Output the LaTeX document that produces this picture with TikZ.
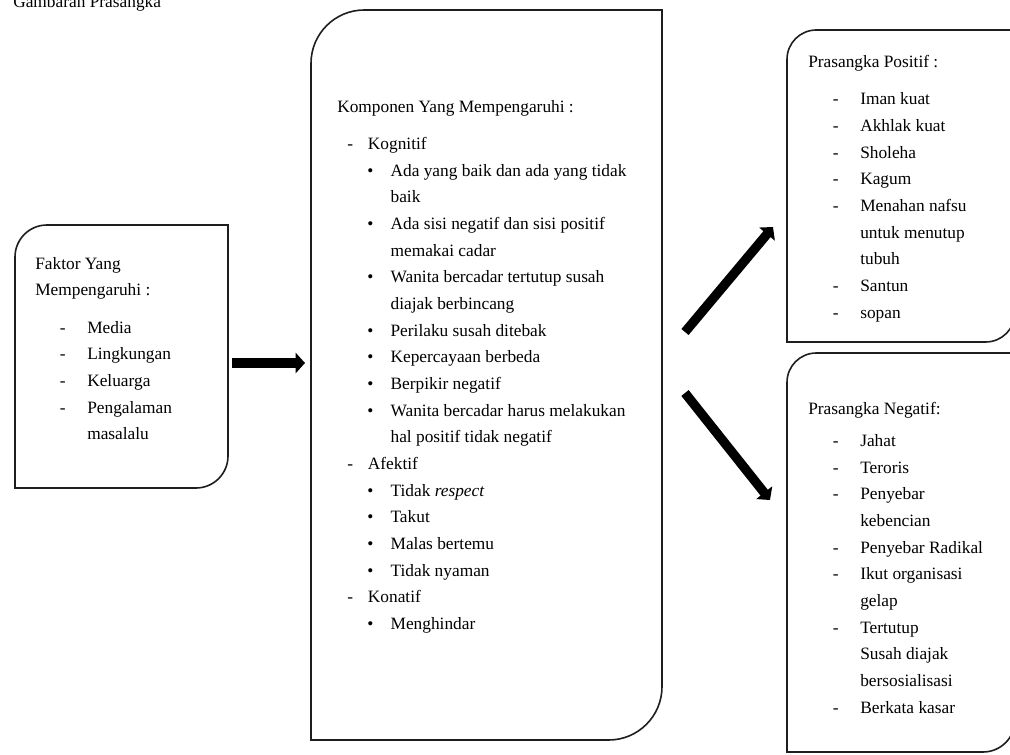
\documentclass[tikz,border=0pt]{standalone}
\usepackage{fontspec}
\setmainfont{Liberation Serif}
\usetikzlibrary{arrows.meta,fit,calc}

\begin{document}
\begin{tikzpicture}[x=0.75pt,y=0.75pt,yscale=-1,xscale=1,
        frame/.style={inner sep=0pt,outer sep=0pt},
        outline/.style={draw={rgb, 255:red, 30; green, 30; blue, 30},line width=1.2pt},
        txt/.style={anchor=north west,inner sep=0pt,align=left,font=\fontsize{13}{20}\selectfont},
        bigarrow/.style={line width=7pt,-{Triangle[width=15pt,length=7pt]}}]
        \useasboundingbox (0,0) rectangle (1010,755);

        \node[frame,fit={(15,225) (228,488)}] (faktor) {};
        \node[frame,fit={(311,10) (662,740)}] (komponen) {};
        \node[frame,fit={(787,30) (1015,342)}] (positif) {};
        \node[frame,fit={(787,353) (1015,752)}] (negatif) {};

        \draw[outline] (faktor.north) -- (faktor.north east) [rounded corners=24pt] -- (faktor.south east) [sharp corners] -- (faktor.south west) [rounded corners=24pt] -- (faktor.north west) [sharp corners] -- cycle;
        \draw[outline] (komponen.north) -- (komponen.north east) [rounded corners=40pt] -- (komponen.south east) [sharp corners] -- (komponen.south west) [rounded corners=40pt] -- (komponen.north west) [sharp corners] -- cycle;
        \draw[outline] (positif.north) -- (positif.north east) [rounded corners=22pt] -- (positif.south east) [sharp corners] -- (positif.south west) [rounded corners=22pt] -- (positif.north west) [sharp corners] -- cycle;
        \draw[outline] (negatif.north) -- (negatif.north east) [rounded corners=24pt] -- (negatif.south east) [sharp corners] -- (negatif.south west) [rounded corners=22pt] -- (negatif.north west) [sharp corners] -- cycle;

        \draw[bigarrow] ($(faktor.east)+(4,6.5)$) -- ($(komponen.west)+(-6,-12)$);
        \draw[bigarrow] ($(komponen.east)+(23,-43)$) -- ($(positif.west)+(-14,41)$);
        \draw[bigarrow] ($(komponen.east)+(23,18)$) -- ($(negatif.west)+(-17,-52.5)$);

        \node[txt,anchor=base west] (judul) at (13,8) {Gambaran Prasangka};
        \node[txt] (faktorteks) at (35,257) {Faktor Yang\\Mempengaruhi :\\[8pt]
            \hspace*{18.5pt}\makebox[20.5pt][l]{-}Media\\
            \hspace*{18.5pt}\makebox[20.5pt][l]{-}Lingkungan\\
            \hspace*{18.5pt}\makebox[20.5pt][l]{-}Keluarga\\
            \hspace*{18.5pt}\makebox[20.5pt][l]{-}Pengalaman\\
            \hspace*{39pt}masalalu};
        \node[txt] (komponenteks) at (337,100) {Komponen Yang Mempengaruhi :\\[8pt]
            \hspace*{7.5pt}\makebox[15.5pt][l]{-}Kognitif\\
            \hspace*{22.5pt}\makebox[17.5pt][l]{\textbullet}Ada yang baik dan ada yang tidak\\
            \hspace*{40pt}baik\\
            \hspace*{22.5pt}\makebox[17.5pt][l]{\textbullet}Ada sisi negatif dan sisi positif\\
            \hspace*{40pt}memakai cadar\\
            \hspace*{22.5pt}\makebox[17.5pt][l]{\textbullet}Wanita bercadar tertutup susah\\
            \hspace*{40pt}diajak berbincang\\
            \hspace*{22.5pt}\makebox[17.5pt][l]{\textbullet}Perilaku susah ditebak\\
            \hspace*{22.5pt}\makebox[17.5pt][l]{\textbullet}Kepercayaan berbeda\\
            \hspace*{22.5pt}\makebox[17.5pt][l]{\textbullet}Berpikir negatif\\
            \hspace*{22.5pt}\makebox[17.5pt][l]{\textbullet}Wanita bercadar harus melakukan\\
            \hspace*{40pt}hal positif tidak negatif\\
            \hspace*{7.5pt}\makebox[15.5pt][l]{-}Afektif\\
            \hspace*{22.5pt}\makebox[17.5pt][l]{\textbullet}Tidak \textit{respect}\\
            \hspace*{22.5pt}\makebox[17.5pt][l]{\textbullet}Takut\\
            \hspace*{22.5pt}\makebox[17.5pt][l]{\textbullet}Malas bertemu\\
            \hspace*{22.5pt}\makebox[17.5pt][l]{\textbullet}Tidak nyaman\\
            \hspace*{7.5pt}\makebox[15.5pt][l]{-}Konatif\\
            \hspace*{22.5pt}\makebox[17.5pt][l]{\textbullet}Menghindar};
        \node[txt] (positifteks) at (808,55) {Prasangka Positif :\\[8pt]
            \hspace*{18.5pt}\makebox[20.5pt][l]{-}Iman kuat\\
            \hspace*{18.5pt}\makebox[20.5pt][l]{-}Akhlak kuat\\
            \hspace*{18.5pt}\makebox[20.5pt][l]{-}Sholeha\\
            \hspace*{18.5pt}\makebox[20.5pt][l]{-}Kagum\\
            \hspace*{18.5pt}\makebox[20.5pt][l]{-}Menahan nafsu\\
            \hspace*{39pt}untuk menutup\\
            \hspace*{39pt}tubuh\\
            \hspace*{18.5pt}\makebox[20.5pt][l]{-}Santun\\
            \hspace*{18.5pt}\makebox[20.5pt][l]{-}sopan};
        \node[txt] (negatifteks) at (808,402) {Prasangka Negatif:\\[4pt]
            \hspace*{18.5pt}\makebox[20.5pt][l]{-}Jahat\\
            \hspace*{18.5pt}\makebox[20.5pt][l]{-}Teroris\\
            \hspace*{18.5pt}\makebox[20.5pt][l]{-}Penyebar\\
            \hspace*{39pt}kebencian\\
            \hspace*{18.5pt}\makebox[20.5pt][l]{-}Penyebar Radikal\\
            \hspace*{18.5pt}\makebox[20.5pt][l]{-}Ikut organisasi\\
            \hspace*{39pt}gelap\\
            \hspace*{18.5pt}\makebox[20.5pt][l]{-}Tertutup\\
            \hspace*{39pt}Susah diajak\\
            \hspace*{39pt}bersosialisasi\\
            \hspace*{18.5pt}\makebox[20.5pt][l]{-}Berkata kasar};
\end{tikzpicture}
\end{document}
